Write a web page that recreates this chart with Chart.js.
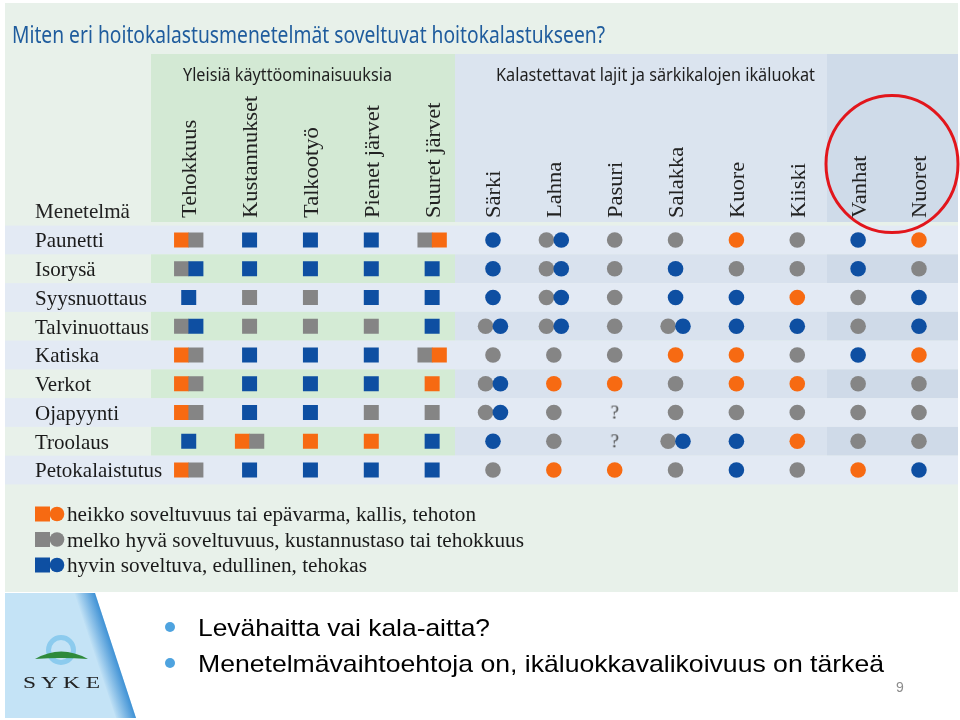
<!DOCTYPE html>
<html><head><meta charset="utf-8">
<script src="https://cdn.jsdelivr.net/npm/chart.js@4.4.1/dist/chart.umd.min.js"></script>
<style>
html,body{margin:0;padding:0;background:#fff;}
#wrap{position:relative;width:960px;height:720px;overflow:hidden;}
#c{position:absolute;left:0;top:0;}
.t{position:absolute;white-space:nowrap;line-height:1;transform-origin:0 0;}
</style></head>
<body>
<div id="wrap"><canvas id="c" width="960" height="720"></canvas></div>
<script>
// ---- data ----
const methods = ["Paunetti","Isorysä","Syysnuottaus","Talvinuottaus","Katiska","Verkot","Ojapyynti","Troolaus","Petokalaistutus"];
const propertyCols = ["Tehokkuus","Kustannukset","Talkootyö","Pienet järvet","Suuret järvet"];
const fishCols = ["Särki","Lahna","Pasuri","Salakka","Kuore","Kiiski","Vanhat","Nuoret"];
// O = heikko, G = melko hyvä, B = hyvin soveltuva, ? = ei tiedossa
const propertyRatings = [
  ["OG","B","B","B","GO"],
  ["GB","B","B","B","B"],
  ["B","G","G","B","B"],
  ["GB","G","G","G","B"],
  ["OG","B","B","B","GO"],
  ["OG","B","B","B","O"],
  ["OG","B","B","G","G"],
  ["B","OG","O","O","B"],
  ["OG","B","B","B","B"]
];
const fishRatings = [
  ["B","GB","G","G","O","G","B","O"],
  ["B","GB","G","B","G","G","B","G"],
  ["B","GB","G","B","B","O","G","B"],
  ["GB","GB","G","GB","B","B","G","B"],
  ["G","G","G","O","O","G","B","O"],
  ["GB","O","O","G","O","O","G","G"],
  ["GB","G","?","G","G","G","G","G"],
  ["B","G","?","GB","B","O","G","G"],
  ["G","O","O","G","B","G","O","B"]
];
const legendItems = [
  ["O","heikko soveltuvuus tai epävarma, kallis, tehoton"],
  ["G","melko hyvä soveltuvuus, kustannustaso tai tehokkuus"],
  ["B","hyvin soveltuva, edullinen, tehokas"]
];
const titleText = "Miten eri hoitokalastusmenetelmät soveltuvat hoitokalastukseen?";
const groupHeaders = ["Yleisiä käyttöominaisuuksia","Kalastettavat lajit ja särkikalojen ikäluokat"];
const bullets = ["Levähaitta vai kala-aitta?","Menetelmävaihtoehtoja on, ikäluokkavalikoivuus on tärkeä"];
const pageNumber = "9";

// ---- styles ----
const COLORS = {O:"#f76a12", G:"#858585", B:"#0e4fa2"};
const columns = propertyCols.concat(fishCols);

function buildPoints(ratings, colStart, pairOff) {
  const pts = [], cols = [];
  ratings.forEach((row, r) => row.forEach((cell, c) => {
    if (cell === "?") return;
    const letters = cell.split("");
    letters.forEach((L, k) => {
      const dx = letters.length === 2 ? (k === 0 ? -pairOff : pairOff) : 0;
      pts.push({x: colStart + c + dx, y: r});
      cols.push(COLORS[L]);
    });
  }));
  return {pts, cols};
}
const sq = buildPoints(propertyRatings, 0, 0.118);
const ci = buildPoints(fishRatings, propertyCols.length, 0.122);
const qPts = [];
fishRatings.forEach((row, r) => row.forEach((cell, c) => { if (cell === "?") qPts.push({x: propertyCols.length + c, y: r}); }));

const qImg = document.createElement("canvas");
qImg.width = 16; qImg.height = 20;
(function(){ const g = qImg.getContext("2d"); g.fillStyle = "#4a4a4a"; g.font = "19px 'Liberation Serif'"; g.textAlign = "center"; g.textBaseline = "middle"; g.fillText("?", 8, 11); })();

const bgPlugin = {
  id: "bg",
  beforeDraw(chart) {
    const ctx = chart.ctx, ys = chart.scales.y;
    ctx.save();
    ctx.fillStyle = "#ffffff"; ctx.fillRect(0, 0, 960, 720);
    ctx.fillStyle = "#e8f1ea"; ctx.fillRect(5, 3, 953, 589);
    // header bands
    ctx.fillStyle = "#d3e9d4"; ctx.fillRect(151, 54, 304, 168);
    ctx.fillStyle = "#dbe4ef"; ctx.fillRect(455, 54, 372, 168);
    ctx.fillStyle = "#cfdbe9"; ctx.fillRect(827, 54, 131, 168);
    // row bands
    methods.forEach((m, i) => {
      const a = ys.getPixelForValue(i - 0.5), b = ys.getPixelForValue(i + 0.5);
      const y0 = Math.min(a, b), h = Math.abs(b - a);
      if (i % 2 === 0) { ctx.fillStyle = "#e3eaf4"; ctx.fillRect(5, y0, 953, h); }
      else {
        ctx.fillStyle = "#d4ebd5"; ctx.fillRect(151, y0, 304, h);
        ctx.fillStyle = "#d9e2ee"; ctx.fillRect(455, y0, 372, h);
        ctx.fillStyle = "#cfdae8"; ctx.fillRect(827, y0, 131, h);
      }
    });
    // legend markers
    legendItems.forEach((it, i) => {
      const cy = 514 + i * 25.5;
      ctx.fillStyle = COLORS[it[0]];
      ctx.fillRect(35, cy - 7.5, 15, 15);
      ctx.beginPath(); ctx.arc(57, cy, 7.3, 0, Math.PI * 2); ctx.fill();
    });
    // logo panel
    ctx.beginPath(); ctx.moveTo(5, 593); ctx.lineTo(95, 593); ctx.lineTo(136, 718); ctx.lineTo(5, 718); ctx.closePath();
    ctx.fillStyle = "#c4e3f6"; ctx.fill();
    ctx.beginPath(); ctx.moveTo(74, 593); ctx.lineTo(95, 593); ctx.lineTo(136, 718); ctx.lineTo(116, 718); ctx.closePath();
    const g = ctx.createLinearGradient(74, 593, 93.5, 586.6);
    g.addColorStop(0, "rgba(196,227,246,1)"); g.addColorStop(1, "#3b8fd4");
    ctx.fillStyle = g; ctx.fill();
    ctx.beginPath(); ctx.arc(61, 650, 12.5, 0, Math.PI * 2);
    ctx.strokeStyle = "#8ccbee"; ctx.lineWidth = 5; ctx.stroke();
    ctx.beginPath(); ctx.moveTo(35, 659); ctx.quadraticCurveTo(61, 644, 88, 659); ctx.quadraticCurveTo(61, 657, 35, 659);
    ctx.fillStyle = "#2e8a3b"; ctx.fill();
    // bullets
    ctx.fillStyle = "#4ea3df";
    [627, 663].forEach(y => { ctx.beginPath(); ctx.arc(170, y, 5, 0, Math.PI * 2); ctx.fill(); });
    ctx.restore();
  },
  afterDraw(chart) {
    const ctx = chart.ctx;
    ctx.save();
    ctx.beginPath(); ctx.ellipse(892, 164, 66, 68.5, 0, 0, Math.PI * 2);
    ctx.strokeStyle = "#e2161c"; ctx.lineWidth = 3; ctx.stroke();
    ctx.restore();
  }
};

const chart = new Chart(document.getElementById("c"), {
  type: "scatter",
  data: { datasets: [
    { label: "ominaisuudet", data: sq.pts, pointBackgroundColor: sq.cols, pointBorderWidth: 0, pointStyle: "rect", pointRadius: 10.6, pointHoverRadius: 10.6 },
    { label: "lajit", data: ci.pts, pointBackgroundColor: ci.cols, pointBorderWidth: 0, pointStyle: "circle", pointRadius: 7.8, pointHoverRadius: 7.8 },
    { label: "?", data: qPts, pointStyle: qImg, pointRadius: 8 }
  ]},
  options: {
    responsive: false, animation: false, events: [],
    layout: { padding: { left: 158.3, right: 3.5, top: 225.6, bottom: 235.6 } },
    scales: {
      x: { type: "linear", min: -0.5, max: 12.5, display: false },
      y: { type: "linear", min: -0.5, max: 8.5, reverse: true, display: false }
    },
    plugins: { legend: { display: false }, tooltip: { enabled: false } }
  },
  plugins: [bgPlugin]
});

// ---- text ----
const wrap = document.getElementById("wrap");
const ASC = { serif: 0.8375, sans: 0.8465, noto: 0.888 };
const FAM = { serif: "'Liberation Serif', serif", sans: "'Liberation Sans', Arial, sans-serif", noto: "'Noto Sans', sans-serif" };
function addText(txt, o) {
  const s = document.createElement("span");
  s.className = "t"; s.textContent = txt;
  s.style.fontFamily = FAM[o.fam]; s.style.fontSize = o.size + "px"; s.style.color = o.color || "#1a1a1a";
  if (o.ls) s.style.letterSpacing = o.ls + "px";
  wrap.appendChild(s);
  const w = s.getBoundingClientRect().width;
  const k = o.width ? o.width / w : (o.k || 1);
  if (o.rot) {
    s.style.left = (o.x - ASC[o.fam] * o.size) + "px";
    s.style.top = o.y + "px";
    s.style.transform = "rotate(-90deg) scaleX(" + k + ")";
  } else {
    s.style.left = o.x + "px";
    s.style.top = (o.baseline - ASC[o.fam] * o.size) + "px";
    s.style.transform = "scaleX(" + k + ")";
  }
  return s;
}
const xs = chart.scales.x, ysc = chart.scales.y;
addText(titleText, { x: 12, baseline: 43, size: 24, fam: "noto", color: "#1f5c9d", width: 593 });
addText(groupHeaders[0], { x: 183, baseline: 81, size: 18, fam: "noto", color: "#1e1e1e", width: 209 });
addText(groupHeaders[1], { x: 496, baseline: 81, size: 18, fam: "noto", color: "#1e1e1e", width: 319 });
addText("Menetelmä", { x: 35, baseline: 219, size: 21, fam: "serif", color: "#222", width: 95 });
columns.forEach((c, i) => {
  addText(c, { x: xs.getPixelForValue(i) + 8, y: 218, size: 21, fam: "serif", color: "#222", rot: true, k: 1.07 });
});
methods.forEach((m, i) => {
  addText(m, { x: 35, baseline: ysc.getPixelForValue(i) + 8, size: 21, fam: "serif", color: "#1a1a1a" });
});
legendItems.forEach((it, i) => {
  addText(it[1], { x: 67, baseline: 521 + i * 25.5, size: 20, fam: "serif", color: "#1a1a1a", width: [409, 457, 300][i] });
});
addText(bullets[0], { x: 198, baseline: 636, size: 24, fam: "sans", color: "#000", width: 292 });
addText(bullets[1], { x: 198, baseline: 672, size: 24, fam: "sans", color: "#000", width: 686 });
addText(pageNumber, { x: 896, baseline: 692, size: 14, fam: "sans", color: "#8c8c8c" });
addText("S Y K E", { x: 23, baseline: 688, size: 16, fam: "serif", color: "#222", width: 77 });
</script>
</body></html>
